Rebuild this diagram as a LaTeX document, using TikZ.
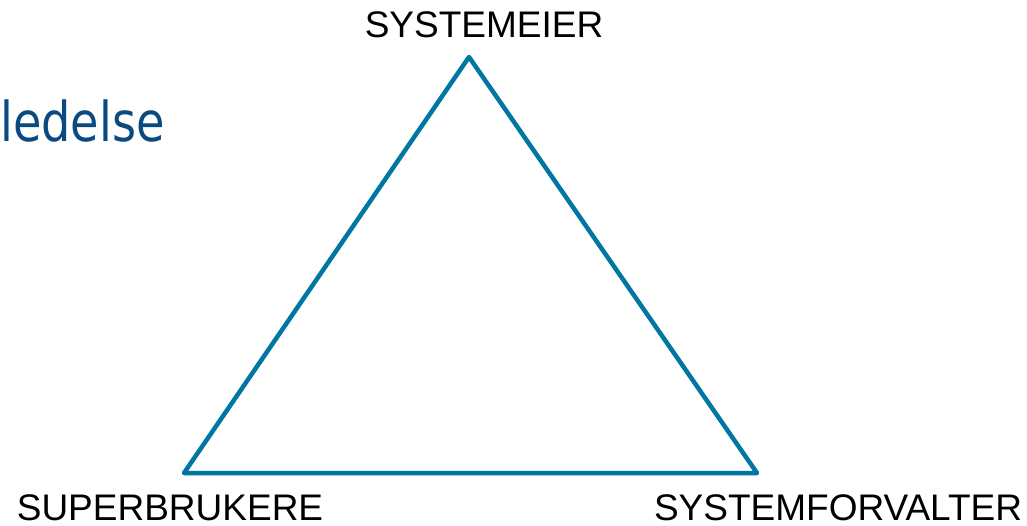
\documentclass[tikz,border=0pt]{standalone}
\usepackage{fontspec}
\setmainfont{Liberation Sans}
\newfontfamily\ledfont{DejaVu Sans}
\definecolor{triblue}{HTML}{0077A2}
\definecolor{leddark}{HTML}{0B4A80}
\begin{document}
\begin{tikzpicture}[x=1pt,y=-1pt,
  lbl/.style={anchor=base,inner sep=0pt,font=\fontsize{37}{40}\selectfont,text=black},
  tri/.style={draw=triblue,line width=4.5pt,line join=round}]
\useasboundingbox (0,0) rectangle (1027,526);
\coordinate (top) at (469,57);
\coordinate (bl) at (184,473);
\coordinate (br) at (757,473);
\draw[tri] (top) -- (br) -- (bl) -- cycle;
\node[lbl] (sysmeier) at (484,38) {SYSTEMEIER};
\node[lbl] (superb) at (170,520) {SUPERBRUKERE};
\node[lbl] (sysforv) at (838,520) {SYSTEMFORVALTER};
\node[anchor=base west,inner sep=0pt,text=leddark] (led) at (0,142) {\scalebox{0.84}[1]{\ledfont\fontsize{55}{60}\selectfont ledelse}};
\end{tikzpicture}
\end{document}
